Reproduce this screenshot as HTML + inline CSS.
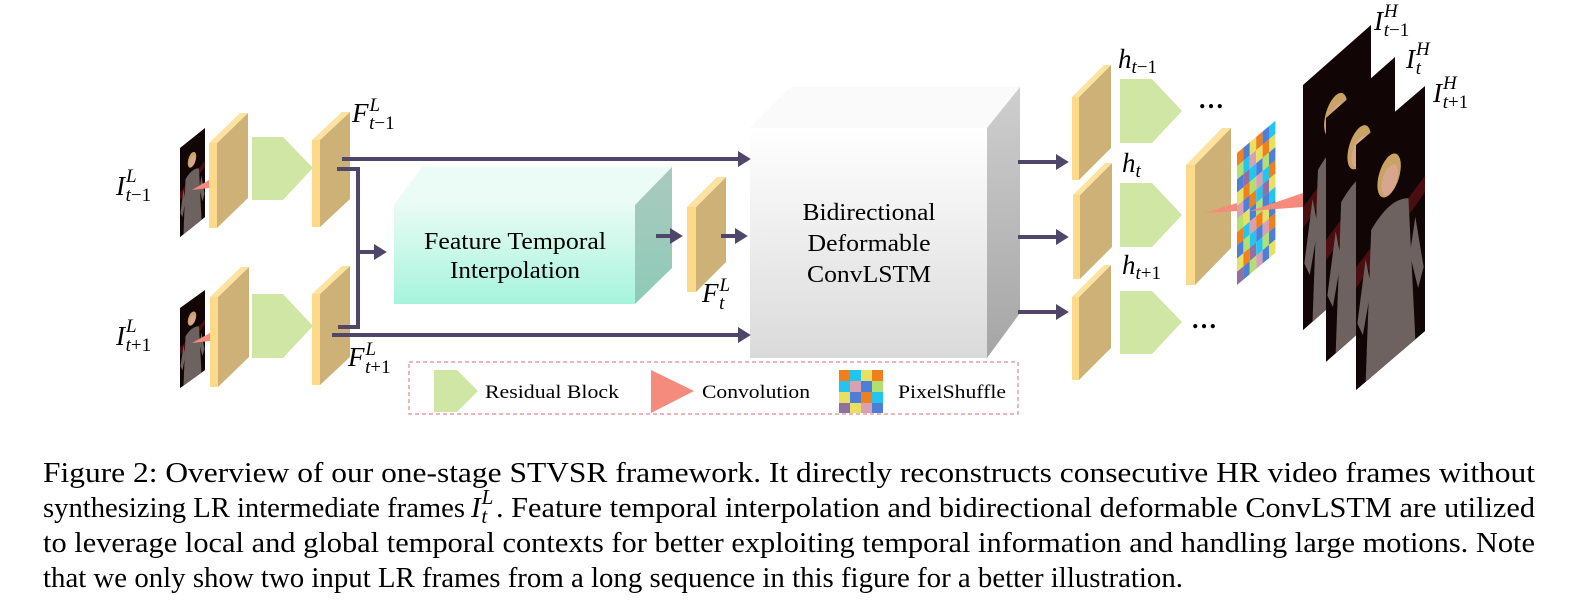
<!DOCTYPE html>
<html><head><meta charset="utf-8"><style>
html,body{margin:0;padding:0;background:#fff;}
svg{display:block;}
text{font-family:"Liberation Serif",serif;}
.m{font-style:italic;}
</style></head><body>
<svg width="1585" height="610" viewBox="0 0 1585 610" xmlns="http://www.w3.org/2000/svg">
<defs>
<marker id="ah" markerWidth="4" markerHeight="4" refX="1" refY="2" orient="auto" markerUnits="strokeWidth">
<path d="M0,0 L3.2,2 L0,4 Z" fill="#50466A"/></marker>
<linearGradient id="fti" x1="0" y1="0" x2="0" y2="1"><stop offset="0" stop-color="#E8FBF4"/><stop offset="1" stop-color="#A6F4DC"/></linearGradient>
<linearGradient id="ftis" x1="0" y1="0" x2="0" y2="1"><stop offset="0" stop-color="#ABC9BF"/><stop offset="1" stop-color="#8DCBB7"/></linearGradient>
<linearGradient id="bd" x1="0" y1="0" x2="0" y2="1"><stop offset="0" stop-color="#FFFFFF"/><stop offset="1" stop-color="#DADADA"/></linearGradient>
<linearGradient id="bds" x1="0" y1="0" x2="0" y2="1"><stop offset="0" stop-color="#CFCFCF"/><stop offset="1" stop-color="#A5A5A5"/></linearGradient>
<g id="person">
<rect x="0" y="0" width="100" height="300" fill="#120506"/>
<path d="M0,150 L100,110 L100,130 L0,175Z" fill="#4a0d10"/>
<ellipse cx="48" cy="72" rx="17" ry="24" fill="#c9a266"/>
<ellipse cx="49" cy="78" rx="12" ry="17" fill="#d8a68c"/>
<path d="M22,120 Q49,100 76,120 L86,300 L14,300Z" fill="#6d625f"/>
<path d="M14,150 L2,220 L10,240 L22,190Z" fill="#6d625f"/>
<path d="M86,150 L98,220 L90,240 L78,190Z" fill="#6d625f"/>
</g>
</defs>

<g transform="matrix(0.25,-0.2,0,0.297,180,148)"><use href="#person"/></g>
<g transform="matrix(0.25,-0.18,0,0.267,180,308)"><use href="#person"/></g>
<polygon points="192,190 209,180 209,188" fill="#F48B7C"/>
<polygon points="192,343 210,333 210,341" fill="#F48B7C"/>

<g>
<polygon points="217,143 248,113 248,198 217,228" fill="#CDB177"/><polygon points="209,143 240,113 248,113 217,143" fill="#FEE3A0"/><rect x="209" y="143" width="8" height="85" fill="#FDD98A"/>
<polygon points="218,297 249,267 249,357 218,387" fill="#CDB177"/><polygon points="210,297 241,267 249,267 218,297" fill="#FEE3A0"/><rect x="210" y="297" width="8" height="90" fill="#FDD98A"/>
<polygon points="320,140 350,112 350,199 320,227" fill="#CDB177"/><polygon points="312,140 342,112 350,112 320,140" fill="#FEE3A0"/><rect x="312" y="140" width="8" height="87" fill="#FDD98A"/>
<polygon points="320,294 350,266 350,357 320,385" fill="#CDB177"/><polygon points="312,294 342,266 350,266 320,294" fill="#FEE3A0"/><rect x="312" y="294" width="8" height="91" fill="#FDD98A"/>
<polygon points="696,207 726,177 726,262 696,292" fill="#CDB177"/><polygon points="687,207 717,177 726,177 696,207" fill="#FEE3A0"/><rect x="687" y="207" width="9" height="85" fill="#FDD98A"/>
<polygon points="1079,97 1111,65 1111,148 1079,180" fill="#CDB177"/><polygon points="1072,97 1104,65 1111,65 1079,97" fill="#FEE3A0"/><rect x="1072" y="97" width="7" height="83" fill="#FDD98A"/>
<polygon points="1080,195 1112,163 1112,247 1080,279" fill="#CDB177"/><polygon points="1073,195 1105,163 1112,163 1080,195" fill="#FEE3A0"/><rect x="1073" y="195" width="7" height="84" fill="#FDD98A"/>
<polygon points="1079,297 1111,265 1111,348 1079,380" fill="#CDB177"/><polygon points="1072,297 1104,265 1111,265 1079,297" fill="#FEE3A0"/><rect x="1072" y="297" width="7" height="83" fill="#FDD98A"/>
<polygon points="1195,165 1231,128 1231,248 1195,285" fill="#CDB177"/><polygon points="1186,165 1222,128 1231,128 1195,165" fill="#FEE3A0"/><rect x="1186" y="165" width="9" height="120" fill="#FDD98A"/>
</g>

<g fill="#D0E6A5">
<polygon points="252,137 283,137 313,168 283,200 252,200"/>
<polygon points="252,294 283,294 313,326 283,358 252,358"/>
<polygon points="1120,79 1152,79 1182,111 1152,143 1120,143"/>
<polygon points="1120,183 1152,183 1182,215 1152,247 1120,247"/>
<polygon points="1120,291 1152,291 1182,322 1152,354 1120,354"/>
</g>

<polygon points="394,205 422,167 672,167 635,205" fill="#EAFCF5"/>
<polygon points="635,205 672,167 672,268 635,304" fill="url(#ftis)"/>
<rect x="394" y="205" width="241" height="99" fill="url(#fti)"/>
<text x="515" y="249" font-size="24" text-anchor="middle" textLength="182" lengthAdjust="spacingAndGlyphs">Feature Temporal</text>
<text x="515" y="278" font-size="24" text-anchor="middle" textLength="130" lengthAdjust="spacingAndGlyphs">Interpolation</text>

<polygon points="750,128 790,87 1020,87 987,128" fill="#FAFAFA"/>
<polygon points="987,128 1020,87 1020,313 987,358" fill="url(#bds)"/>
<rect x="750" y="128" width="237" height="230" fill="url(#bd)"/>
<text x="869" y="220" font-size="24" text-anchor="middle" textLength="133" lengthAdjust="spacingAndGlyphs">Bidirectional</text>
<text x="869" y="251" font-size="24" text-anchor="middle" textLength="123" lengthAdjust="spacingAndGlyphs">Deformable</text>
<text x="869" y="282" font-size="24" text-anchor="middle" textLength="124" lengthAdjust="spacingAndGlyphs">ConvLSTM</text>

<g stroke="#50466A" stroke-width="4" fill="none">
<path d="M342,159 H742" marker-end="url(#ah)"/>
<path d="M337,169 H358 V327 H338"/>
<path d="M358,252 H378" marker-end="url(#ah)"/>
<path d="M332,335 H742" marker-end="url(#ah)"/>
<path d="M656,236 H674" marker-end="url(#ah)"/>
<path d="M721,236 H739" marker-end="url(#ah)"/>
<path d="M1018,162 H1060" marker-end="url(#ah)"/>
<path d="M1018,237 H1060" marker-end="url(#ah)"/>
<path d="M1018,312 H1060" marker-end="url(#ah)"/>
</g>

<text x="1198" y="108" font-size="26" font-weight="bold">…</text>
<text x="1191" y="328" font-size="26" font-weight="bold">…</text>

<g transform="matrix(1,-0.84,0,1,1237,153)">
<rect x="0" y="0" width="6.4" height="13.2" fill="#F07F1E"/><rect x="6.4" y="0" width="6.4" height="13.2" fill="#4E7FD8"/><rect x="12.8" y="0" width="6.4" height="13.2" fill="#E8E060"/><rect x="19.2" y="0" width="6.4" height="13.2" fill="#F07F1E"/><rect x="25.6" y="0" width="6.4" height="13.2" fill="#4E7FD8"/><rect x="32" y="0" width="6.4" height="13.2" fill="#22C5F0"/>
<rect x="0" y="13.2" width="6.4" height="13.2" fill="#B0E070"/><rect x="6.4" y="13.2" width="6.4" height="13.2" fill="#22C5F0"/><rect x="12.8" y="13.2" width="6.4" height="13.2" fill="#D8A0B0"/><rect x="19.2" y="13.2" width="6.4" height="13.2" fill="#E8E060"/><rect x="25.6" y="13.2" width="6.4" height="13.2" fill="#F07F1E"/><rect x="32" y="13.2" width="6.4" height="13.2" fill="#E8E060"/>
<rect x="0" y="26.4" width="6.4" height="13.2" fill="#4E7FD8"/><rect x="6.4" y="26.4" width="6.4" height="13.2" fill="#9070A0"/><rect x="12.8" y="26.4" width="6.4" height="13.2" fill="#22C5F0"/><rect x="19.2" y="26.4" width="6.4" height="13.2" fill="#4E7FD8"/><rect x="25.6" y="26.4" width="6.4" height="13.2" fill="#B0E070"/><rect x="32" y="26.4" width="6.4" height="13.2" fill="#4E7FD8"/>
<rect x="0" y="39.6" width="6.4" height="13.2" fill="#E8E060"/><rect x="6.4" y="39.6" width="6.4" height="13.2" fill="#F07F1E"/><rect x="12.8" y="39.6" width="6.4" height="13.2" fill="#B0E070"/><rect x="19.2" y="39.6" width="6.4" height="13.2" fill="#D8A0B0"/><rect x="25.6" y="39.6" width="6.4" height="13.2" fill="#22C5F0"/><rect x="32" y="39.6" width="6.4" height="13.2" fill="#F07F1E"/>
<rect x="0" y="52.8" width="6.4" height="13.2" fill="#D8A0B0"/><rect x="6.4" y="52.8" width="6.4" height="13.2" fill="#4E7FD8"/><rect x="12.8" y="52.8" width="6.4" height="13.2" fill="#F07F1E"/><rect x="19.2" y="52.8" width="6.4" height="13.2" fill="#22C5F0"/><rect x="25.6" y="52.8" width="6.4" height="13.2" fill="#9070A0"/><rect x="32" y="52.8" width="6.4" height="13.2" fill="#E8E060"/>
<rect x="0" y="66" width="6.4" height="13.2" fill="#B0E070"/><rect x="6.4" y="66" width="6.4" height="13.2" fill="#E8E060"/><rect x="12.8" y="66" width="6.4" height="13.2" fill="#4E7FD8"/><rect x="19.2" y="66" width="6.4" height="13.2" fill="#B0E070"/><rect x="25.6" y="66" width="6.4" height="13.2" fill="#4E7FD8"/><rect x="32" y="66" width="6.4" height="13.2" fill="#22C5F0"/>
<rect x="0" y="79.2" width="6.4" height="13.2" fill="#F07F1E"/><rect x="6.4" y="79.2" width="6.4" height="13.2" fill="#22C5F0"/><rect x="12.8" y="79.2" width="6.4" height="13.2" fill="#D8A0B0"/><rect x="19.2" y="79.2" width="6.4" height="13.2" fill="#F07F1E"/><rect x="25.6" y="79.2" width="6.4" height="13.2" fill="#E8E060"/><rect x="32" y="79.2" width="6.4" height="13.2" fill="#4E7FD8"/>
<rect x="0" y="92.4" width="6.4" height="13.2" fill="#4E7FD8"/><rect x="6.4" y="92.4" width="6.4" height="13.2" fill="#B0E070"/><rect x="12.8" y="92.4" width="6.4" height="13.2" fill="#22C5F0"/><rect x="19.2" y="92.4" width="6.4" height="13.2" fill="#4E7FD8"/><rect x="25.6" y="92.4" width="6.4" height="13.2" fill="#D8A0B0"/><rect x="32" y="92.4" width="6.4" height="13.2" fill="#F07F1E"/>
<rect x="0" y="105.6" width="6.4" height="13.2" fill="#E8E060"/><rect x="6.4" y="105.6" width="6.4" height="13.2" fill="#F07F1E"/><rect x="12.8" y="105.6" width="6.4" height="13.2" fill="#9070A0"/><rect x="19.2" y="105.6" width="6.4" height="13.2" fill="#22C5F0"/><rect x="25.6" y="105.6" width="6.4" height="13.2" fill="#B0E070"/><rect x="32" y="105.6" width="6.4" height="13.2" fill="#4E7FD8"/>
<rect x="0" y="118.8" width="6.4" height="13.2" fill="#9070A0"/><rect x="6.4" y="118.8" width="6.4" height="13.2" fill="#4E7FD8"/><rect x="12.8" y="118.8" width="6.4" height="13.2" fill="#B0E070"/><rect x="19.2" y="118.8" width="6.4" height="13.2" fill="#D8A0B0"/><rect x="25.6" y="118.8" width="6.4" height="13.2" fill="#4E7FD8"/><rect x="32" y="118.8" width="6.4" height="13.2" fill="#E8E060"/>
</g>

<g transform="matrix(0.68,-0.6,0,0.817,1303,85)"><use href="#person"/></g>
<g transform="matrix(0.69,-0.61,0,0.813,1326,118)"><use href="#person"/></g>
<g transform="matrix(0.69,-0.59,0,0.817,1356,145)"><use href="#person"/></g>

<polygon points="1205,213 1237,203 1237,211" fill="#F48B7C"/>
<polygon points="1250,211 1303,193 1303,207" fill="#F48B7C"/>

<rect x="409" y="362" width="609" height="52" fill="none" stroke="#E08A8A" stroke-width="1.2" stroke-dasharray="4,3"/>
<polygon points="434,370 457,370 478,391 457,412 434,412" fill="#D0E6A5"/>
<text x="485" y="398" font-size="19" textLength="134" lengthAdjust="spacingAndGlyphs">Residual Block</text>
<polygon points="651,370 694,391 651,413" fill="#F48B7C"/>
<text x="702" y="398" font-size="19" textLength="108" lengthAdjust="spacingAndGlyphs">Convolution</text>
<g transform="translate(839,370)">
<rect width="44" height="43" fill="#4E7FD8"/>
<rect x="0" y="0" width="11" height="11" fill="#F07F1E"/><rect x="11" y="0" width="11" height="11" fill="#22C5F0"/><rect x="22" y="0" width="11" height="11" fill="#E8E060"/><rect x="33" y="0" width="11" height="11" fill="#F07F1E"/>
<rect x="0" y="11" width="11" height="11" fill="#22C5F0"/><rect x="11" y="11" width="11" height="11" fill="#D8A0B0"/><rect x="22" y="11" width="11" height="11" fill="#4E7FD8"/><rect x="33" y="11" width="11" height="11" fill="#B0E070"/>
<rect x="0" y="22" width="11" height="11" fill="#E8E060"/><rect x="11" y="22" width="11" height="11" fill="#4E7FD8"/><rect x="22" y="22" width="11" height="11" fill="#F07F1E"/><rect x="33" y="22" width="11" height="11" fill="#22C5F0"/>
<rect x="0" y="33" width="11" height="10" fill="#9070A0"/><rect x="11" y="33" width="11" height="10" fill="#E8E060"/><rect x="22" y="33" width="11" height="10" fill="#D8A0B0"/><rect x="33" y="33" width="11" height="10" fill="#4E7FD8"/>
</g>
<text x="898" y="398" font-size="19" textLength="108" lengthAdjust="spacingAndGlyphs">PixelShuffle</text>

<g font-size="27">
<text x="116" y="195"><tspan class="m">I</tspan><tspan class="m" font-size="19" dx="1" dy="-13">L</tspan><tspan class="m" font-size="19" dx="-11" dy="19">t</tspan><tspan font-size="19">−1</tspan></text>
<text x="116" y="345"><tspan class="m">I</tspan><tspan class="m" font-size="19" dx="1" dy="-13">L</tspan><tspan class="m" font-size="19" dx="-11" dy="19">t</tspan><tspan font-size="19">+1</tspan></text>
<text x="352" y="122"><tspan class="m">F</tspan><tspan class="m" font-size="19" dx="1" dy="-11">L</tspan><tspan class="m" font-size="19" dx="-11" dy="18">t</tspan><tspan font-size="19">−1</tspan></text>
<text x="348" y="366"><tspan class="m">F</tspan><tspan class="m" font-size="19" dx="1" dy="-11">L</tspan><tspan class="m" font-size="19" dx="-11" dy="18">t</tspan><tspan font-size="19">+1</tspan></text>
<text x="702" y="302"><tspan class="m">F</tspan><tspan class="m" font-size="19" dx="1" dy="-11">L</tspan><tspan class="m" font-size="19" dx="-11" dy="18">t</tspan></text>
<text x="1118" y="68"><tspan class="m">h</tspan><tspan class="m" font-size="19" dy="5">t</tspan><tspan font-size="19">−1</tspan></text>
<text x="1122" y="172"><tspan class="m">h</tspan><tspan class="m" font-size="19" dy="5">t</tspan></text>
<text x="1122" y="274"><tspan class="m">h</tspan><tspan class="m" font-size="19" dy="5">t</tspan><tspan font-size="19">+1</tspan></text>
<text x="1374" y="30"><tspan class="m">I</tspan><tspan class="m" font-size="19" dx="1" dy="-13">H</tspan><tspan class="m" font-size="19" dx="-14" dy="19">t</tspan><tspan font-size="19">−1</tspan></text>
<text x="1406" y="68"><tspan class="m">I</tspan><tspan class="m" font-size="19" dx="1" dy="-13">H</tspan><tspan class="m" font-size="19" dx="-14" dy="19">t</tspan></text>
<text x="1433" y="102"><tspan class="m">I</tspan><tspan class="m" font-size="19" dx="1" dy="-13">H</tspan><tspan class="m" font-size="19" dx="-14" dy="19">t</tspan><tspan font-size="19">+1</tspan></text>
</g>

<g font-size="29" fill="#000">
<text x="43" y="482" textLength="1492" lengthAdjust="spacingAndGlyphs">Figure 2:  Overview of our one-stage STVSR framework.  It directly reconstructs consecutive HR video frames without</text>
<text x="43" y="517" textLength="422" lengthAdjust="spacingAndGlyphs">synthesizing LR intermediate frames</text>
<text x="471" y="517"><tspan class="m">I</tspan><tspan class="m" font-size="21" dx="1" dy="-13">L</tspan><tspan class="m" font-size="21" dx="-12" dy="19">t</tspan></text>
<text x="496" y="517" textLength="1039" lengthAdjust="spacingAndGlyphs">. Feature temporal interpolation and bidirectional deformable ConvLSTM are utilized</text>
<text x="43" y="552" textLength="1492" lengthAdjust="spacingAndGlyphs">to leverage local and global temporal contexts for better exploiting temporal information and handling large motions. Note</text>
<text x="43" y="587" textLength="1140" lengthAdjust="spacingAndGlyphs">that we only show two input LR frames from a long sequence in this figure for a better illustration.</text>
</g>
</svg>
</body></html>
